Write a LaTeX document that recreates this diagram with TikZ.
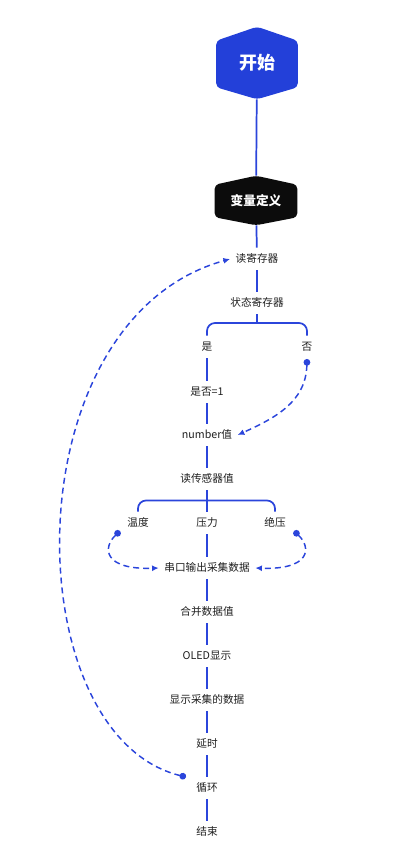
\documentclass[tikz,border=0pt]{standalone}
\usepackage{fontspec}
\setmainfont{Noto Sans CJK SC}
\definecolor{flowBlue}{HTML}{2B45DB}
\definecolor{startBlue}{HTML}{2340D9}
\definecolor{boxBlack}{HTML}{0C0C0C}
\definecolor{labelGray}{HTML}{1F1F1F}
\usepackage{tikz}
\usetikzlibrary{arrows.meta, calc, backgrounds}

\begin{document}
\begin{tikzpicture}[
    x=0.75pt, y=-0.75pt,
    lbl/.style={inner sep=4pt, text height=7pt, text depth=1.5pt, font=\fontsize{8}{10}\selectfont, text=labelGray},
    hexnode/.style={inner sep=0pt, text=white, font=\bfseries},
    line/.style={flowBlue, line width=1.3pt},
    jump/.style={flowBlue, line width=1.1pt, dash pattern=on 4.5pt off 3pt, {Circle[length=5pt]}-{Latex[length=5pt,width=4.5pt]}}
]
\useasboundingbox (0,0) rectangle (407,866);

\node[hexnode, minimum width=81*0.75pt, minimum height=72*0.75pt, font=\fontsize{13.5}{15}\bfseries\selectfont] (start) at (257,63) {开始};
\node[hexnode, minimum width=82*0.75pt, minimum height=49*0.75pt, font=\fontsize{9.5}{11}\bfseries\selectfont] (var) at (256,200.5) {变量定义};
\begin{scope}[on background layer]
\fill[startBlue, rounded corners=3pt] (start.north) -- ($(start.north east)+(0,14)$) -- ($(start.south east)+(0,-12)$) -- (start.south) -- ($(start.south west)+(0,-12)$) -- ($(start.north west)+(0,14)$) -- cycle;
\fill[boxBlack, rounded corners=3pt] (var.north) -- ($(var.north east)+(0,9)$) -- ($(var.south east)+(0,-8)$) -- (var.south) -- ($(var.south west)+(0,-8)$) -- ($(var.north west)+(0,9)$) -- cycle;
\end{scope}

\node[lbl] (rr) at (257,259) {读寄存器};
\node[lbl] (st) at (257,303) {状态寄存器};
\node[lbl] (yes) at (207,347) {是};
\node[lbl] (no) at (307,347) {否};
\node[lbl] (eq) at (207,392) {是否=1};
\node[lbl] (num) at (207,435) {number值};
\node[lbl] (rs) at (207,479) {读传感器值};
\node[lbl] (temp) at (138,523) {温度};
\node[lbl] (press) at (207,523) {压力};
\node[lbl] (abs) at (275,523) {绝压};
\node[lbl] (uart) at (207,568) {串口输出采集数据};
\node[lbl] (merge) at (207,612) {合并数据值};
\node[lbl] (oled) at (207,656) {OLED显示};
\node[lbl] (show) at (207,700) {显示采集的数据};
\node[lbl] (delay) at (207,744) {延时};
\node[lbl] (loop) at (207,788) {循环};
\node[lbl] (stop) at (207,832) {结束};

\coordinate (b1) at (257,323);
\coordinate (b2) at (207,500.5);
\coordinate (nodot) at (307,359);
\coordinate (tdot) at (120,531);
\coordinate (adot) at (294,531);
\coordinate (ldot) at (186,777);

\draw[line] (start) -- (var);
\draw[line] (var) -- (rr);
\draw[line] (rr) -- (st);
\draw[line] (st) -- (b1);
\draw[line, rounded corners=6pt] (yes) |- (b1) -| (no);
\draw[line] (yes) -- (eq);
\draw[line] (eq) -- (num);
\draw[line] (num) -- (rs);
\draw[line] (rs) -- (press);
\draw[line, rounded corners=6pt] (temp) |- (b2) -| (abs);
\draw[line] (press) -- (uart);
\draw[line] (uart) -- (merge);
\draw[line] (merge) -- (oled);
\draw[line] (oled) -- (show);
\draw[line] (show) -- (delay);
\draw[line] (delay) -- (loop);
\draw[line] (loop) -- (stop);

\draw[jump] (nodot) .. controls (306,402) and (275,418) .. (num.east);
\draw[jump] (tdot) .. controls (102,548) and (104,570) .. (uart.west);
\draw[jump] (adot) .. controls (312,548) and (310,570) .. (uart.east);
\draw[jump] (ldot) .. controls (15,735) and (10,320) .. (rr.west);
\end{tikzpicture}
\end{document}
